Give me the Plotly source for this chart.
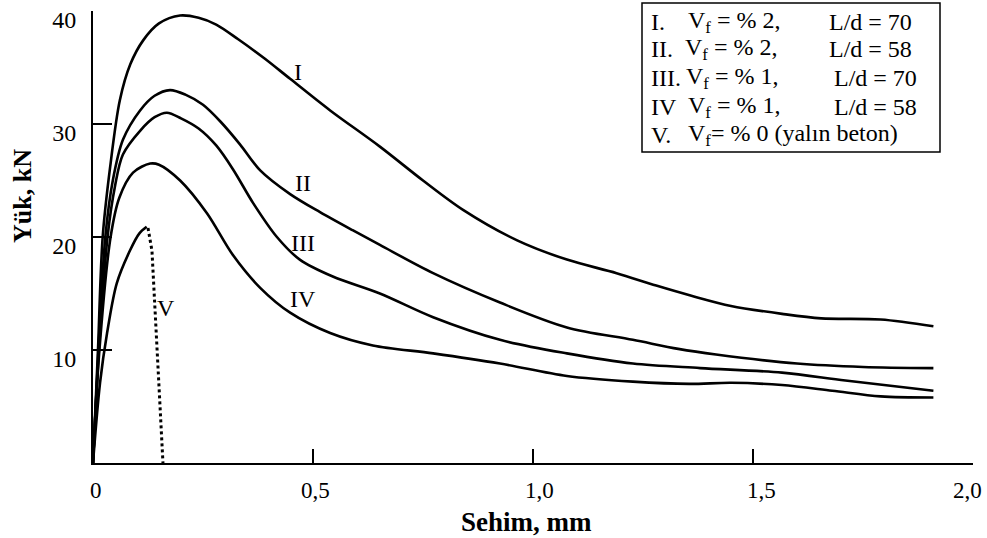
import plotly.graph_objects as go

# ---- data (Sehim, mm  vs  Yük, kN) ----
x_I = [0, 0.011, 0.022, 0.039, 0.061, 0.085, 0.114, 0.15, 0.198, 0.24, 0.28, 0.33, 0.39, 0.448, 0.539,
       0.652, 0.75, 0.841, 0.964, 1.077, 1.19, 1.28, 1.36, 1.45, 1.566, 1.655, 1.79, 1.91]
y_I = [0, 9.7, 20.0, 26.2, 32.1, 35.3, 37.4, 38.9, 39.6, 39.4, 38.8, 37.5, 35.8, 34.0, 31.2,
       28.0, 25.0, 22.4, 19.7, 18.0, 16.8, 15.7, 14.8, 13.9, 13.2, 12.8, 12.7, 12.1]

x_II = [0, 0.012, 0.028, 0.045, 0.068, 0.107, 0.14, 0.175, 0.21, 0.25, 0.29, 0.334, 0.38, 0.448, 0.516,
        0.59, 0.652, 0.773, 0.925, 1.077, 1.227, 1.33, 1.416, 1.6, 1.75, 1.91]
y_II = [0, 9.7, 20.0, 25.0, 28.6, 31.2, 32.5, 33.0, 32.6, 31.7, 30.2, 28.2, 25.9, 23.8, 22.2,
        20.6, 19.3, 16.8, 14.2, 12.0, 10.9, 10.1, 9.6, 8.8, 8.5, 8.4]

x_III = [0, 0.013, 0.033, 0.05, 0.068, 0.107, 0.14, 0.168, 0.2, 0.24, 0.28, 0.318, 0.364, 0.418, 0.47,
         0.545, 0.652, 0.773, 0.925, 1.077, 1.227, 1.38, 1.566, 1.71, 1.91]
y_III = [0, 9.7, 20.0, 24.5, 27.3, 29.4, 30.6, 31.0, 30.5, 29.6, 28.1, 26.0, 23.0, 20.0, 18.0,
         16.5, 15.0, 12.9, 10.9, 9.7, 8.8, 8.4, 8.0, 7.3, 6.4]

x_IV = [0, 0.014, 0.04, 0.06, 0.091, 0.13, 0.15, 0.198, 0.259, 0.318, 0.38, 0.448, 0.539, 0.636,
        0.773, 0.925, 1.077, 1.227, 1.355, 1.45, 1.566, 1.68, 1.79, 1.91]
y_IV = [0, 9.7, 20.0, 23.5, 25.7, 26.5, 26.4, 25.0, 22.1, 18.4, 15.5, 13.3, 11.5, 10.4,
        9.7, 8.8, 7.7, 7.2, 7.0, 7.1, 6.9, 6.4, 5.9, 5.8]

x_V = [0, 0.016, 0.032, 0.054, 0.084, 0.105, 0.122]
y_V = [0, 7.1, 11.5, 15.9, 18.8, 20.3, 20.9]
x_V_drop = [0.125, 0.134, 0.159]
y_V_drop = [20.8, 18.8, 0]

x_tickvals = [0, 0.5, 1.0, 1.5, 2.0]
x_ticktext = ["0", "0,5", "1,0", "1,5", "2,0"]
y_tickvals = [10, 20, 30, 40]
y_ticktext = ["10", "20", "30", "40"]

curve_labels = ["I", "II", "III", "IV", "V"]
curve_label_x = [0.466, 0.477, 0.477, 0.477, 0.166]
curve_label_y = [34.6, 24.8, 19.5, 14.5, 13.7]

legend_num = ["I.", "II.", "III.", "IV", "V."]
legend_vf = ["V<sub>f</sub> = % 2,", "V<sub>f</sub> = % 2,", "V<sub>f</sub> = % 1,",
             "V<sub>f</sub> = % 1,", "V<sub>f</sub>= % 0 (yalın beton)"]
legend_ld = ["L/d = 70", "L/d = 58", "L/d = 70", "L/d = 58", ""]

FONT = "Liberation Serif"

fig = go.Figure()
for xs, ys in [(x_I, y_I), (x_II, y_II), (x_III, y_III), (x_IV, y_IV), (x_V, y_V)]:
    fig.add_trace(go.Scatter(x=xs, y=ys, mode="lines",
                             line=dict(color="black", width=2.6, shape="spline", smoothing=0.9),
                             showlegend=False, hoverinfo="skip"))
fig.add_trace(go.Scatter(x=x_V_drop, y=y_V_drop, mode="lines",
                         line=dict(color="black", width=3, dash="dot"),
                         showlegend=False, hoverinfo="skip"))

# curve labels
for t, lx, ly in zip(curve_labels, curve_label_x, curve_label_y):
    fig.add_annotation(x=lx, y=ly, text=t, showarrow=False, xanchor="center", yanchor="middle",
                       font=dict(family=FONT, size=24, color="black"))

W, H = 987, 538
L, R, T, B = 93, 14, 11, 75
pw, ph = W - L - R, H - T - B


def px(xp):
    return (xp - L) / pw


def py(yp):
    return (H - B - yp) / ph


# x tick labels (drawn as annotations at the tick values so the last one stays inside the page)
x_label_shift = [3, 2, 6, 8, -6]
for v, t, s in zip(x_tickvals, x_ticktext, x_label_shift):
    fig.add_annotation(x=v, xref="x", yref="paper", y=py(490), text=t, showarrow=False,
                       xanchor="center", yanchor="middle", xshift=s,
                       font=dict(family=FONT, size=23, color="black"))

# legend box
fig.add_shape(type="rect", xref="paper", yref="paper", x0=px(642), x1=px(940), y0=py(152), y1=py(3),
              line=dict(color="black", width=1.5), fillcolor="white", layer="below")
row_y = [22, 49, 78, 107, 135]
vf_x = [686, 683, 684, 686, 686]
ld_x = [827, 827, 832, 832, 832]
for i in range(5):
    fig.add_annotation(xref="paper", yref="paper", x=px(649), y=py(row_y[i]), text=legend_num[i],
                       showarrow=False, xanchor="left", yanchor="middle",
                       font=dict(family=FONT, size=24, color="black"))
    fig.add_annotation(xref="paper", yref="paper", x=px(vf_x[i]), y=py(row_y[i]), text=legend_vf[i],
                       showarrow=False, xanchor="left", yanchor="middle",
                       font=dict(family=FONT, size=24, color="black"))
    if legend_ld[i]:
        fig.add_annotation(xref="paper", yref="paper", x=px(ld_x[i]), y=py(row_y[i]), text=legend_ld[i],
                           showarrow=False, xanchor="left", yanchor="middle",
                           font=dict(family=FONT, size=24, color="black"))

# axis titles
fig.add_annotation(xref="paper", yref="paper", x=px(22), y=py(196), text="<b>Yük, kN</b>", textangle=-90,
                   showarrow=False, xanchor="center", yanchor="middle",
                   font=dict(family=FONT, size=26, color="black"))
fig.add_annotation(xref="paper", yref="paper", x=px(526), y=py(522), text="<b>Sehim, mm</b>",
                   showarrow=False, xanchor="center", yanchor="middle",
                   font=dict(family=FONT, size=27, color="black"))

fig.update_layout(
    width=W, height=H, autosize=False,
    margin=dict(l=L, r=R, t=T, b=B, pad=0, autoexpand=False),
    paper_bgcolor="white", plot_bgcolor="white",
    font=dict(family=FONT, size=24, color="black"),
    xaxis=dict(range=[0, 2.0], showgrid=False, zeroline=False, showline=True, linecolor="black",
               linewidth=2, ticks="inside", ticklen=14, tickwidth=2, tickcolor="black",
               tickvals=x_tickvals, showticklabels=False, automargin=False),
    yaxis=dict(range=[0, 40], showgrid=False, zeroline=False, showline=True, linecolor="black",
               linewidth=2, ticks="inside", ticklen=19, tickwidth=2, tickcolor="black",
               tickvals=y_tickvals, ticktext=y_ticktext, ticklabelstandoff=10, ticklabelshift=9,
               ticklabeloverflow="allow",
               automargin=False, tickfont=dict(family=FONT, size=24, color="black")),
)

fig.write_html("out.html")
